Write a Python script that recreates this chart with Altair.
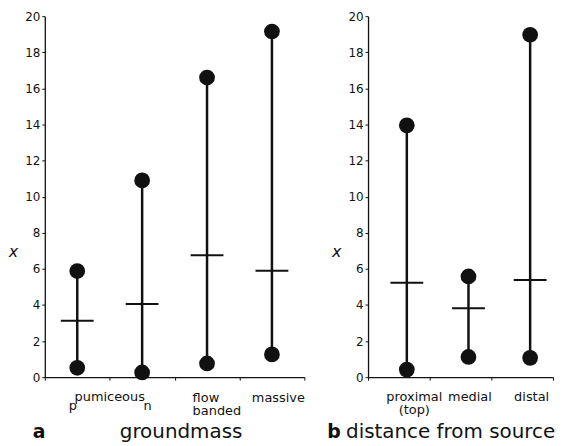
import altair as alt
import pandas as pd

# ---- data ----
cats_a = ["p", "n", "flow|banded", "massive"]
min_a = [0.52, 0.26, 0.76, 1.26]
max_a = [5.88, 10.9, 16.6, 19.15]
mean_a = [3.13, 4.06, 6.75, 5.9]

cats_b = ["proximal|(top)", "medial", "distal"]
min_b = [0.42, 1.12, 1.07]
max_b = [13.95, 5.58, 18.97]
mean_b = [5.23, 3.82, 5.38]

y_ticks = list(range(0, 21, 2))

FONT = "DejaVu Sans"
H = 363
BLACK = "#111111"


def make_panel(cats, mins, maxs, means, width, letter, letter_x, title, title_x,
               pad_cond, off_cond, align_cond, shift, span_label=None):
    df = pd.DataFrame({"cat": cats, "lo": mins, "hi": maxs, "mean": means})
    xscale = alt.Scale(domain=cats, paddingInner=0, paddingOuter=0)
    xaxis = alt.Axis(
        title=None,
        labelExpr="split(datum.label, '|')",
        labelFont=FONT, labelFontSize=13, labelColor=BLACK,
        labelBaseline="alphabetic", labelLineHeight=14,
        labelAngle=0,
        labelPadding=pad_cond, labelOffset=off_cond, labelAlign=align_cond,
        tickBand="extent", tickSize=3, tickColor=BLACK, tickWidth=1,
        domainColor=BLACK, domainWidth=1.3, grid=False,
    )
    yaxis = alt.Axis(
        title="x", titleAngle=0, titleFont=FONT, titleFontSize=16,
        titleFontStyle="italic", titleFontWeight="normal", titleColor=BLACK,
        titleX=-32, titleY=H * 0.5 + 55, titleAlign="center", titleBaseline="middle",
        values=y_ticks, labelOverlap=False, labelFont=FONT, labelFontSize=12,
        labelColor=BLACK, tickSize=3, tickColor=BLACK, labelPadding=2,
        domainColor=BLACK, domainWidth=1.3, grid=False,
    )
    x = alt.X("cat:N", scale=xscale, axis=xaxis, sort=cats)
    yscale = alt.Scale(domain=[0, 20], nice=False)
    base = alt.Chart(df)
    rule = base.mark_rule(color=BLACK, strokeWidth=2.5, xOffset=shift).encode(
        x=x, y=alt.Y("lo:Q", scale=yscale, axis=yaxis), y2="hi:Q")
    lo = base.mark_circle(color=BLACK, opacity=1, size=250, xOffset=shift).encode(
        x=x, y=alt.Y("lo:Q", scale=yscale, axis=yaxis))
    hi = base.mark_circle(color=BLACK, opacity=1, size=250, xOffset=shift).encode(
        x=x, y=alt.Y("hi:Q", scale=yscale, axis=yaxis))
    mean = base.mark_tick(color=BLACK, opacity=1, orient="horizontal", size=33,
                          thickness=2, xOffset=shift).encode(
        x=x, y=alt.Y("mean:Q", scale=yscale, axis=yaxis))
    layers = [rule, lo, hi, mean]
    if span_label is not None:
        sdf = pd.DataFrame({"cat": [span_label[0]], "t": [span_label[1]]})
        span = alt.Chart(sdf).mark_text(
            font=FONT, fontSize=13, color=BLACK, baseline="alphabetic", align="center"
        ).encode(x=alt.X("cat:N", scale=xscale, sort=cats, bandPosition=1),
                 y=alt.value(H + 24), text="t:N")
        layers.append(span)
    ldf = pd.DataFrame({"t": [letter]})
    let = alt.Chart(ldf).mark_text(
        font=FONT, fontSize=19, fontWeight="bold", color=BLACK,
        baseline="alphabetic", align="left"
    ).encode(x=alt.value(letter_x), y=alt.value(H + 61), text="t:N")
    tdf = pd.DataFrame({"t": [title]})
    tit = alt.Chart(tdf).mark_text(
        font=FONT, fontSize=20, color=BLACK, baseline="alphabetic", align="center"
    ).encode(x=alt.value(title_x), y=alt.value(H + 61), text="t:N")
    layers += [let, tit]
    return alt.layer(*layers).properties(width=width, height=H)


pad_a = {"condition": {"test": "datum.value == 'p' || datum.value == 'n'", "value": 30},
         "value": 21}
off_a = {"condition": [
    {"test": "datum.value == 'p'", "value": -5},
    {"test": "datum.value == 'n'", "value": 5},
    {"test": "datum.value == 'flow|banded'", "value": -15},
], "value": 6}
align_a = {"condition": {"test": "datum.value == 'flow|banded'", "value": "left"},
           "value": "center"}

pad_b = {"condition": {"test": "datum.value == 'zzz'", "value": 20}, "value": 20}
off_b = {"condition": {"test": "datum.value == 'proximal|(top)'", "value": 15}, "value": 9}
align_b = "center"

left = make_panel(cats_a, min_a, max_a, mean_a, 261, "a", -12, "groundmass", 137,
                  pad_a, off_a, align_a, 0, span_label=("p", "pumiceous"))
right = make_panel(cats_b, min_b, max_b, mean_b, 186, "b", -41, "distance from source", 83,
                   pad_b, off_b, align_b, 8)

chart = alt.hconcat(left, right, spacing=22).properties(
    padding={"left": 0, "top": 1, "right": 0, "bottom": 0},
    background="white",
).configure_view(stroke=None)

chart.save("out.html", embed_options={"renderer": "svg", "actions": False})
